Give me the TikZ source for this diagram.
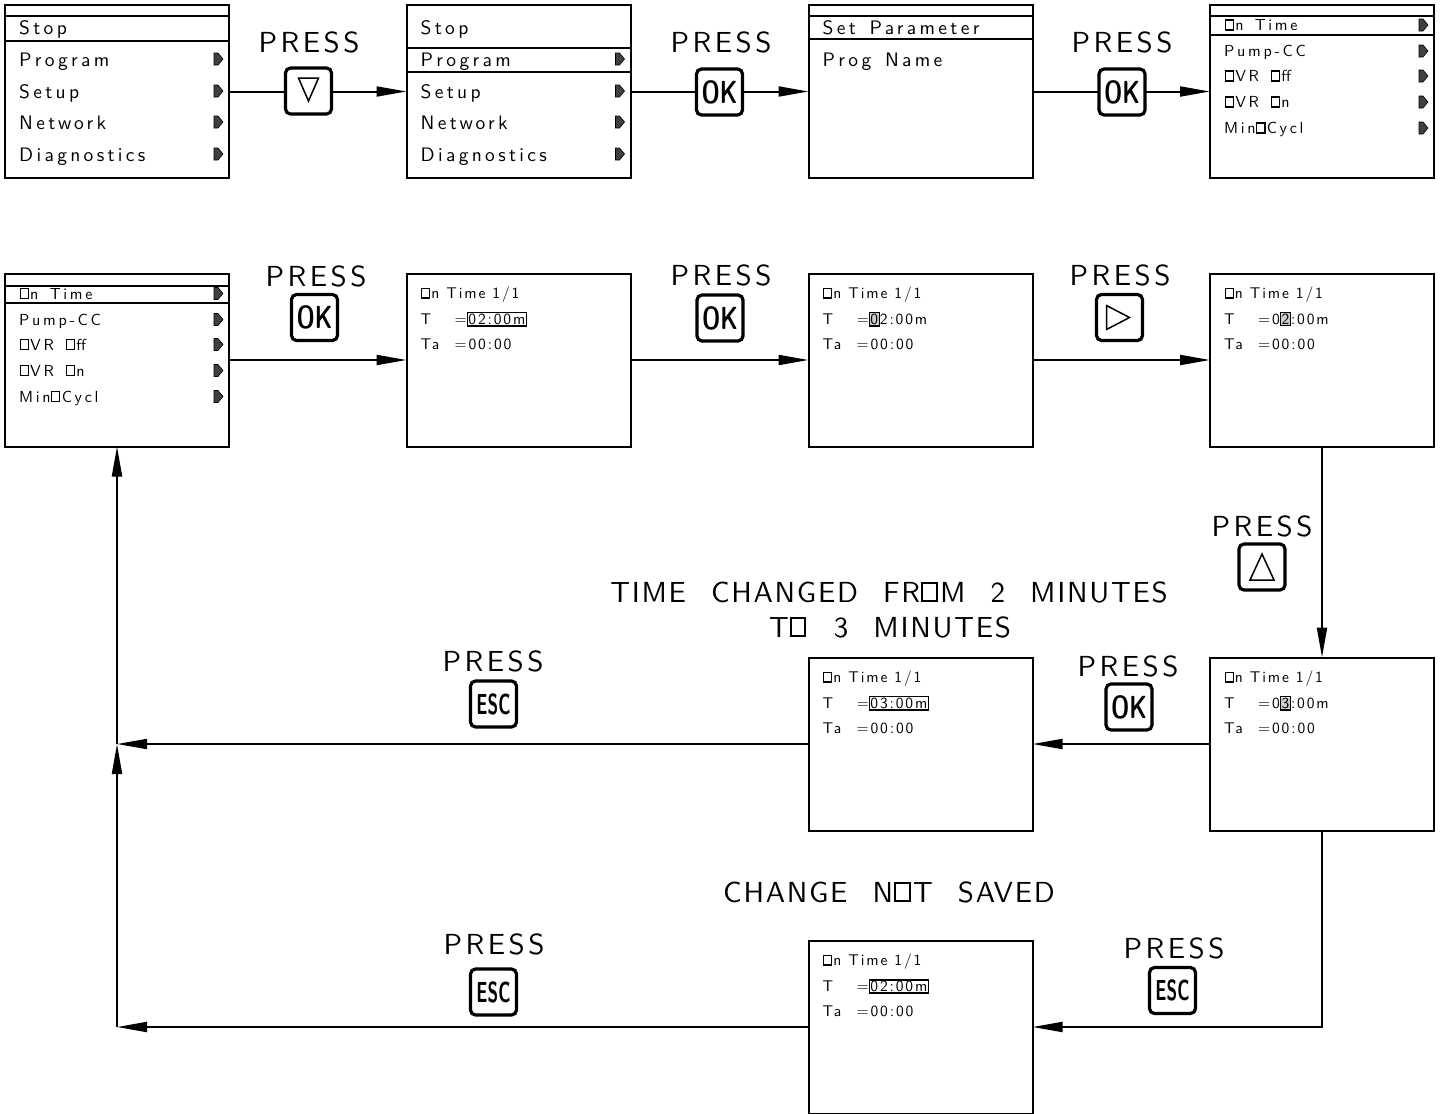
\documentclass[tikz,border=0pt]{standalone}
\usepackage{fontspec}
\usetikzlibrary{arrows.meta,calc}
\newfontfamily\menufont{lmsans10-regular.otf}[LetterSpace=17,WordSpace=1.4,Ligatures=NoCommon]
\newfontfamily\lcdfont{lmsans10-regular.otf}[LetterSpace=12,WordSpace=2.6,Ligatures=NoCommon]
\newfontfamily\pressfont{lmsans10-regular.otf}[LetterSpace=12,Ligatures=NoCommon]
\newfontfamily\capfont{lmsans10-regular.otf}[LetterSpace=6,WordSpace=2.2,Ligatures=NoCommon]
\newfontfamily\keyfont{lmsans10-bold.otf}
\newcommand\obx{\kern0.03em\raisebox{0.07em}{\setlength\fboxsep{0pt}\setlength\fboxrule{0.07em}\fbox{\rule{0pt}{0.55em}\hspace{0.44em}}}\kern0.08em}
\newcommand\hl[1]{{\setlength\fboxsep{0.5pt}\setlength\fboxrule{1.2pt}\fbox{#1}}}
\newcommand\cur[1]{{\setlength\fboxsep{0.5pt}\setlength\fboxrule{1.2pt}\fcolorbox{black}{black!20}{#1}}}
\newcommand\stxt[5]{\node[#4] (#1) at ([shift={(#2)}]#3.north west) {#5};}
\newcommand\mk[2]{\filldraw[mkstyle] ([shift={(213,#2)}]#1.north west) ++(-4,-6) -- ++(4,0) -- ++(5,6) -- ++(-5,6) -- ++(-4,0) -- cycle;}
\newcommand\barl[2]{\draw[barline] ([shift={(0,#2)}]#1.north west) -- ([shift={(0,#2)}]#1.north east);}
\tikzset{
 screen/.style={draw,line width=2pt,minimum width=224pt,minimum height=173pt,inner sep=0pt,outer sep=0pt},
 bigtxt/.style={inner sep=0pt,anchor=base west,font=\menufont\fontsize{19.5}{20}\selectfont},
 smalltxt/.style={inner sep=0pt,anchor=base west,font=\menufont\fontsize{16}{17}\selectfont},
 lcdtxt/.style={inner sep=0pt,anchor=base west,font=\lcdfont\fontsize{15.5}{16}\selectfont},
 presstxt/.style={inner sep=0pt,font=\pressfont\fontsize{29}{30}\selectfont},
 captxt/.style={inner sep=0pt,font=\capfont\fontsize{29}{30}\selectfont},
 keybtn/.style={draw,line width=3.2pt,rounded corners=5pt,minimum size=46pt,inner sep=0pt,fill=white},
 oktxt/.style={font=\keyfont\fontsize{32}{32}\selectfont},
 conn/.style={line width=2pt,-{Triangle[length=30pt,width=10pt]}},
 barline/.style={line width=2pt},
 sym/.style={line width=1.5pt,line join=miter},
 mkstyle/.style={fill=black!75,draw=black,line width=0.6pt},
}
\begin{document}
\begin{tikzpicture}[x=1pt,y=-1pt]
\useasboundingbox (0,0) rectangle (1441,1114);
% screens
\node[screen] (r1a) at (117,91.5) {};
\node[screen] (r1b) at (518.5,91.5) {};
\node[screen] (r1c) at (920.5,91.5) {};
\node[screen] (r1d) at (1322,91.5) {};
\node[screen] (r2a) at (117,360) {};
\node[screen] (r2b) at (518.5,360) {};
\node[screen] (r2c) at (920.5,360) {};
\node[screen] (r2d) at (1322,360) {};
\node[screen] (r3a) at (920.5,744) {};
\node[screen] (r3b) at (1322,744) {};
\node[screen] (r4) at (920.5,1027) {};
% screen r1a
\barl{r1a}{11}\barl{r1a}{36}
\stxt{r1a1}{14,29}{r1a}{bigtxt}{Stop}
\stxt{r1a2}{14,61}{r1a}{bigtxt}{Program}
\stxt{r1a3}{14,93}{r1a}{bigtxt}{Setup}
\stxt{r1a4}{14,124}{r1a}{bigtxt}{Network}
\stxt{r1a5}{14,156}{r1a}{bigtxt}{Diagnostics}
\mk{r1a}{54}\mk{r1a}{86}\mk{r1a}{117}\mk{r1a}{149}
% screen r1b
\barl{r1b}{43}\barl{r1b}{67}
\stxt{r1b1}{14,29}{r1b}{bigtxt}{Stop}
\stxt{r1b2}{14,61}{r1b}{bigtxt}{Program}
\stxt{r1b3}{14,93}{r1b}{bigtxt}{Setup}
\stxt{r1b4}{14,124}{r1b}{bigtxt}{Network}
\stxt{r1b5}{14,156}{r1b}{bigtxt}{Diagnostics}
\mk{r1b}{54}\mk{r1b}{86}\mk{r1b}{117}\mk{r1b}{149}
% screen r1c
\barl{r1c}{11}\barl{r1c}{34}
\stxt{r1c1}{14,29}{r1c}{bigtxt}{Set Parameter}
\stxt{r1c2}{14,61}{r1c}{bigtxt}{Prog Name}
% screen r1d
\barl{r1d}{11}\barl{r1d}{30}
\stxt{r1d1}{14,25.5}{r1d}{smalltxt}{\obx n Time}
\stxt{r1d2}{14,51.5}{r1d}{smalltxt}{Pump-CC}
\stxt{r1d3}{14,76.5}{r1d}{smalltxt}{\obx VR \obx f\kern0ptf}
\stxt{r1d4}{14,102.5}{r1d}{smalltxt}{\obx VR \obx n}
\stxt{r1d5}{14,128.5}{r1d}{smalltxt}{Min\obx Cycl}
\mk{r1d}{20}\mk{r1d}{46}\mk{r1d}{71}\mk{r1d}{97}\mk{r1d}{123}
% screen r2a
\barl{r2a}{12}\barl{r2a}{29}
\stxt{r2a1}{14,25.5}{r2a}{smalltxt}{\obx n Time}
\stxt{r2a2}{14,51.5}{r2a}{smalltxt}{Pump-CC}
\stxt{r2a3}{14,76.5}{r2a}{smalltxt}{\obx VR \obx f\kern0ptf}
\stxt{r2a4}{14,102.5}{r2a}{smalltxt}{\obx VR \obx n}
\stxt{r2a5}{14,128.5}{r2a}{smalltxt}{Min\obx Cycl}
\mk{r2a}{20}\mk{r2a}{46}\mk{r2a}{71}\mk{r2a}{97}\mk{r2a}{123}
% timing screens
\stxt{r2b1}{14,25}{r2b}{lcdtxt}{\obx n Time 1/1}
\stxt{r2b2}{14,51}{r2b}{lcdtxt}{T}
\stxt{r2b3}{48,51}{r2b}{lcdtxt}{=\hl{02:00m}}
\stxt{r2b4}{14,76}{r2b}{lcdtxt}{Ta}
\stxt{r2b5}{48,76}{r2b}{lcdtxt}{=00:00}
\stxt{r2c1}{14,25}{r2c}{lcdtxt}{\obx n Time 1/1}
\stxt{r2c2}{14,51}{r2c}{lcdtxt}{T}
\stxt{r2c3}{48,51}{r2c}{lcdtxt}{=\cur{0}2:00m}
\stxt{r2c4}{14,76}{r2c}{lcdtxt}{Ta}
\stxt{r2c5}{48,76}{r2c}{lcdtxt}{=00:00}
\stxt{r2d1}{14,25}{r2d}{lcdtxt}{\obx n Time 1/1}
\stxt{r2d2}{14,51}{r2d}{lcdtxt}{T}
\stxt{r2d3}{48,51}{r2d}{lcdtxt}{=0\cur{2}:00m}
\stxt{r2d4}{14,76}{r2d}{lcdtxt}{Ta}
\stxt{r2d5}{48,76}{r2d}{lcdtxt}{=00:00}
\stxt{r3b1}{14,25}{r3b}{lcdtxt}{\obx n Time 1/1}
\stxt{r3b2}{14,51}{r3b}{lcdtxt}{T}
\stxt{r3b3}{48,51}{r3b}{lcdtxt}{=0\cur{3}:00m}
\stxt{r3b4}{14,76}{r3b}{lcdtxt}{Ta}
\stxt{r3b5}{48,76}{r3b}{lcdtxt}{=00:00}
\stxt{r3a1}{14,25}{r3a}{lcdtxt}{\obx n Time 1/1}
\stxt{r3a2}{14,51}{r3a}{lcdtxt}{T}
\stxt{r3a3}{48,51}{r3a}{lcdtxt}{=\hl{03:00m}}
\stxt{r3a4}{14,76}{r3a}{lcdtxt}{Ta}
\stxt{r3a5}{48,76}{r3a}{lcdtxt}{=00:00}
\stxt{r41}{14,25}{r4}{lcdtxt}{\obx n Time 1/1}
\stxt{r42}{14,51}{r4}{lcdtxt}{T}
\stxt{r43}{48,51}{r4}{lcdtxt}{=\hl{02:00m}}
\stxt{r44}{14,76}{r4}{lcdtxt}{Ta}
\stxt{r45}{48,76}{r4}{lcdtxt}{=00:00}
% connectors
\coordinate (j1) at (r2a.south |- r3a.west);
\coordinate (j2) at (r2a.south |- r4.west);
\coordinate (c1) at (r3b.south |- r4.east);
\draw[conn] (r1a.east) -- (r1b.west);
\draw[conn] (r1b.east) -- (r1c.west);
\draw[conn] (r1c.east) -- (r1d.west);
\draw[conn] (r2a.east) -- (r2b.west);
\draw[conn] (r2b.east) -- (r2c.west);
\draw[conn] (r2c.east) -- (r2d.west);
\draw[conn] (r2d.south) -- (r3b.north);
\draw[conn] (r3b.west) -- (r3a.east);
\draw[conn] (r3a.west) -- (j1);
\draw[conn] (r3b.south) -- (c1) -- (r4.east);
\draw[conn] (r4.west) -- (j2);
\draw[conn] (j2) -- (j1);
\draw[conn] (j1) -- (r2a.south);
% keys
\node[keybtn] (kA) at (308.5,91) {};
\draw[sym] ([shift={(-10,-13)}]kA.center) -- ++(20,0) -- ++(-10,23) -- cycle;
\node[keybtn,oktxt] (kB) at (719.5,92) {\scalebox{0.72}[1]{OK}};
\node[keybtn,oktxt] (kC) at (1122,92) {\scalebox{0.72}[1]{OK}};
\node[keybtn,oktxt] (kD) at (314.5,317.5) {\scalebox{0.72}[1]{OK}};
\node[keybtn,oktxt] (kE) at (720,318) {\scalebox{0.72}[1]{OK}};
\node[keybtn] (kF) at (1119.5,317.5) {};
\draw[sym] ([shift={(-13,-12)}]kF.center) -- ++(23,12) -- ++(-23,12) -- cycle;
\node[keybtn] (kG) at (1262,567) {};
\draw[sym] ([shift={(0,-13)}]kG.center) -- ++(12,26) -- ++(-24,0) -- cycle;
\node[keybtn,oktxt] (kH) at (1129,707) {\scalebox{0.72}[1]{OK}};
\node[keybtn,oktxt] (kI) at (493.5,704) {\scalebox{0.6}[1]{\fontsize{29}{29}\selectfont ESC}};
\node[keybtn,oktxt] (kJ) at (1172.5,990.5) {\scalebox{0.6}[1]{\fontsize{29}{29}\selectfont ESC}};
\node[keybtn,oktxt] (kK) at (493.5,992) {\scalebox{0.6}[1]{\fontsize{29}{29}\selectfont ESC}};
% PRESS labels
\node[presstxt] (pA) at (309,42) {PRESS};
\node[presstxt] (pB) at (721,42) {PRESS};
\node[presstxt] (pC) at (1122,42) {PRESS};
\node[presstxt] (pD) at (316,276.5) {PRESS};
\node[presstxt] (pE) at (721,275) {PRESS};
\node[presstxt] (pF) at (1120,275) {PRESS};
\node[presstxt] (pG) at (1262,526) {PRESS};
\node[presstxt] (pH) at (1128,666) {PRESS};
\node[presstxt] (pI) at (493,661) {PRESS};
\node[presstxt] (pJ) at (1174,948) {PRESS};
\node[presstxt] (pK) at (494,944) {PRESS};
% captions
\node[captxt] (cap1) at (889,592) {TIME CHANGED FR\obx M 2 MINUTES};
\node[captxt] (cap2) at (890,627) {T\obx{} 3 MINUTES};
\node[captxt] (cap3) at (889,892) {CHANGE N\obx T SAVED};
\end{tikzpicture}
\end{document}
